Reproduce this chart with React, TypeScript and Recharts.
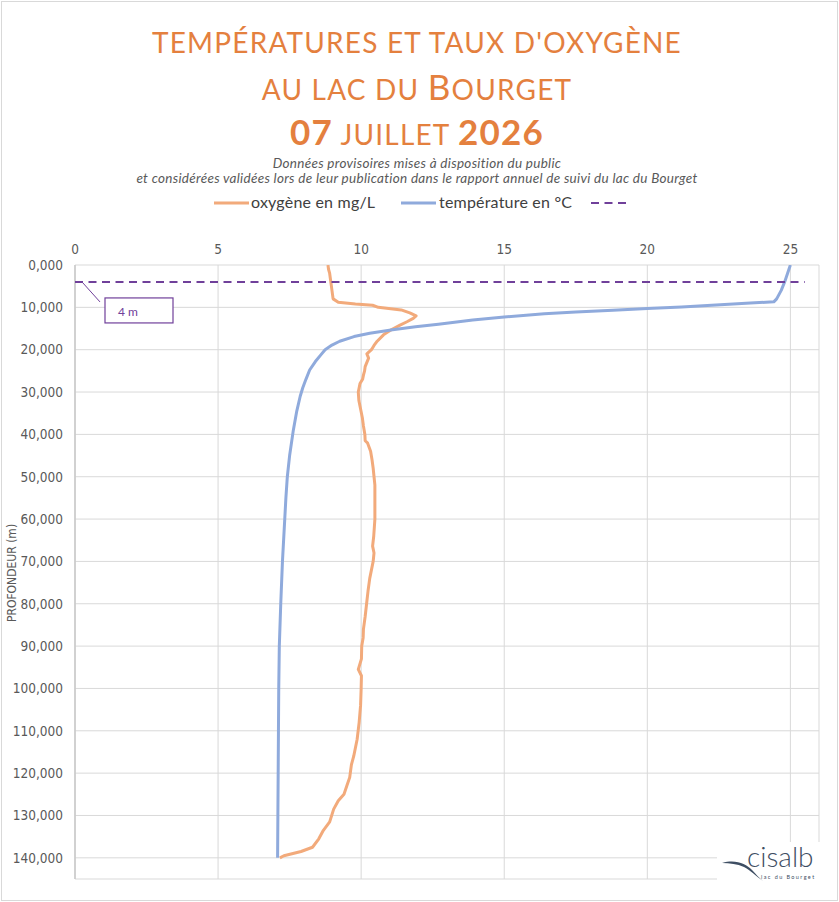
import { ScatterChart, Scatter, XAxis, YAxis, CartesianGrid, ReferenceDot } from 'recharts'

const oxyDepth = [0, 1, 2, 3, 4, 5, 6, 7, 8, 8.8, 9.2, 9.5, 10, 10.6, 11.3, 12, 12.6, 13.4, 14.2, 15.3, 16.5, 18, 19, 20, 21, 22, 23, 24, 25, 26, 27, 28, 29, 30, 32, 34, 36, 38, 40, 41.5, 42, 44, 46, 48, 50, 52, 56, 60, 64, 66.4, 68, 70, 72, 74, 77, 80, 83, 86, 88, 90, 93, 95.5, 97, 100, 104, 108, 112, 116, 118, 121, 123, 125, 126.5, 128.5, 131.5, 133.5, 135.5, 137.5, 138.5, 139.5, 140]
const oxyValue = [8.84, 8.86, 8.9, 8.92, 8.94, 8.96, 8.98, 9.0, 9.02, 9.2, 9.8, 10.4, 10.6, 11.4, 11.7, 11.92, 11.82, 11.6, 11.36, 11.05, 10.78, 10.56, 10.45, 10.36, 10.2, 10.26, 10.2, 10.14, 10.12, 10.08, 10.05, 9.96, 9.93, 9.9, 9.92, 9.98, 10.04, 10.08, 10.13, 10.14, 10.22, 10.33, 10.38, 10.42, 10.45, 10.48, 10.48, 10.48, 10.44, 10.4, 10.45, 10.42, 10.36, 10.3, 10.24, 10.19, 10.14, 10.08, 10.07, 10.02, 10.01, 9.9, 10.01, 10.0, 9.98, 9.93, 9.86, 9.74, 9.66, 9.6, 9.5, 9.4, 9.2, 9.04, 8.9, 8.68, 8.52, 8.3, 7.9, 7.3, 7.16]

const tempDepth = [0, 1, 2, 3, 4, 5, 6, 7, 8, 8.7, 9.0, 9.4, 9.9, 10.3, 10.7, 11.1, 11.5, 12.3, 13.0, 14.0, 14.6, 15.3, 16.1, 16.9, 18.0, 18.9, 20.0, 21.0, 22.8, 24.8, 27, 29, 31, 34.5, 39, 45, 50, 55, 60, 70, 80, 90, 100, 110, 120, 130, 140]
const tempValue = [25.0, 24.95, 24.9, 24.85, 24.8, 24.74, 24.68, 24.6, 24.52, 24.42, 23.6, 22.55, 21.2, 20.0, 18.8, 17.5, 16.4, 15.0, 13.9, 12.7, 11.9, 11.1, 10.3, 9.75, 9.25, 8.98, 8.74, 8.62, 8.4, 8.2, 8.07, 7.96, 7.87, 7.75, 7.63, 7.5, 7.42, 7.37, 7.33, 7.25, 7.19, 7.14, 7.12, 7.11, 7.1, 7.09, 7.08]

// repère à 4 m (trait pointillé)
const markDepth = 4
const markSpan = [0, 25.5]

const xTicks = [0, 5, 10, 15, 20, 25]
const yTicks = [0, 10, 20, 30, 40, 50, 60, 70, 80, 90, 100, 110, 120, 130, 140]

const oxygen = oxyDepth.map((d, i) => ({ x: oxyValue[i], y: d }))
const temperature = tempDepth.map((d, i) => ({ x: tempValue[i], y: d }))
const marker = markSpan.map((v) => ({ x: v, y: markDepth }))

const ORANGE = '#E4803E'
const OXY = '#F2AA7B'
const TEMP = '#8FAADC'
const PURPLE = '#70409A'
const GRID = '#D9D9D9'
const TXT = '#595959'
const TITLE_FONT = 'Lato, "Noto Sans", sans-serif'
const AXIS_FONT = '"Liberation Sans Narrow", "DejaVu Sans Condensed", sans-serif'

const tick = { fill: TXT, fontSize: 13.5, fontFamily: AXIS_FONT }
const noDot = () => <g />

function Callout({ cx, cy }: { cx: number; cy: number }) {
  return (
    <g>
      <line x1={cx + 7} y1={cy} x2={cx + 25} y2={cy + 20} stroke={PURPLE} strokeWidth={1} />
      <rect x={cx + 30} y={cy + 16} width={68} height={25} fill="#fff" stroke={PURPLE} strokeWidth={1.2} />
      <text x={cx + 43} y={cy + 34} fill={PURPLE} fontSize={12} fontFamily={TITLE_FONT}>{markDepth} m</text>
    </g>
  )
}

export default function App() {
  return (
    <div style={{ position: 'absolute', left: 0, top: 0, width: 839, height: 902, background: '#fff', overflow: 'hidden' }}>
      <div style={{ position: 'absolute', left: 1, top: 1, width: 835, height: 898, border: '1px solid #D9D9D9' }} />
      <div style={{ position: 'absolute', left: 0, top: 0 }}>
        <ScatterChart width={839} height={902} margin={{ top: 240, right: 20, bottom: 23, left: 0 }}>
          <CartesianGrid stroke={GRID} strokeWidth={1} />
          <XAxis type="number" dataKey="x" orientation="top" domain={[0, 26]} ticks={xTicks} height={25}
            axisLine={false} tickLine={false} tickMargin={5} tick={tick} allowDataOverflow />
          <YAxis type="number" dataKey="y" reversed domain={[0, 145]} ticks={yTicks} width={75}
            axisLine={{ stroke: '#C8C8C8', strokeWidth: 1.5 }} tickLine={false} tickMargin={6} tick={tick}
            tickFormatter={(v: number) => v.toFixed(3).replace('.', ',')} allowDataOverflow />
          <Scatter name="oxygène en mg/L" data={oxygen} fill={OXY} shape={noDot} isAnimationActive={false}
            line={{ stroke: OXY, strokeWidth: 3, strokeLinejoin: 'round' }} lineType="joint" />
          <Scatter name="température en °C" data={temperature} fill={TEMP} shape={noDot} isAnimationActive={false}
            line={{ stroke: TEMP, strokeWidth: 3, strokeLinejoin: 'round' }} lineType="joint" />
          <Scatter name="repère" data={marker} fill={PURPLE} shape={noDot} isAnimationActive={false}
            line={{ stroke: PURPLE, strokeWidth: 2, strokeDasharray: '8 5.5' }} lineType="joint" />
          <ReferenceDot x={0} y={markDepth} r={0} ifOverflow="visible"
            shape={(p: any) => <Callout cx={p.cx} cy={p.cy} />} />
        </ScatterChart>
      </div>
      <svg width={839} height={902} style={{ position: 'absolute', left: 0, top: 0, pointerEvents: 'none' }}>
        <g fill={ORANGE} fontFamily={TITLE_FONT} textAnchor="middle" letterSpacing={1.2}>
          <text x={417} y={53} fontSize={28}>TEMPÉRATURES ET TAUX D'OXYGÈNE</text>
          <text x={417} y={100}>
            <tspan fontSize={28}>AU LAC DU </tspan>
            <tspan fontSize={35}>B</tspan>
            <tspan fontSize={28}>OURGET</tspan>
          </text>
          <text x={417} y={145} fontWeight={700}>
            <tspan fontSize={35}>07</tspan>
            <tspan fontSize={28} fontWeight={400}> JUILLET </tspan>
            <tspan fontSize={35}>2026</tspan>
          </text>
        </g>
        <g fill={TXT} fontFamily={TITLE_FONT} fontStyle="italic" fontSize={13.5} letterSpacing={0.3} textAnchor="middle">
          <text x={417} y={168}>Données provisoires mises à disposition du public</text>
          <text x={417} y={183}>et considérées validées lors de leur publication dans le rapport annuel de suivi du lac du Bourget</text>
        </g>
        <g fontFamily={TITLE_FONT} fontSize={16} letterSpacing={0.2} fill="#404040">
          <line x1={214} y1={203} x2={249} y2={203} stroke={OXY} strokeWidth={3} />
          <text x={251} y={208}>oxygène en mg/L</text>
          <line x1={401} y1={203} x2={436} y2={203} stroke={TEMP} strokeWidth={3} />
          <text x={439} y={208}>température en °C</text>
          <line x1={591} y1={203} x2={626} y2={203} stroke={PURPLE} strokeWidth={2} strokeDasharray="8 5.5" />
        </g>
        <text transform="translate(16,573) rotate(-90)" textAnchor="middle" fill={TXT} fontSize={12} fontFamily={AXIS_FONT}>
          PROFONDEUR (m)
        </text>
        <g>
          <rect x={717} y={842} width={105} height={38} fill="#fff" />
          <path d="M722,863 C736,859 746,864 752,870 C756,874 759,878 763,881 C756,876 750,870 744,867 C737,864 730,863 722,863 Z" fill="#3E4E63" />
          <text x={747} y={867} fontSize={28} fontWeight={300} fill="#3E4E63" fontFamily={TITLE_FONT}>cisalb</text>
          <text x={761} y={879} fontSize={5.5} letterSpacing={1.4} fill="#3E4E63" fontFamily={TITLE_FONT}>lac du Bourget</text>
        </g>
      </svg>
    </div>
  )
}
